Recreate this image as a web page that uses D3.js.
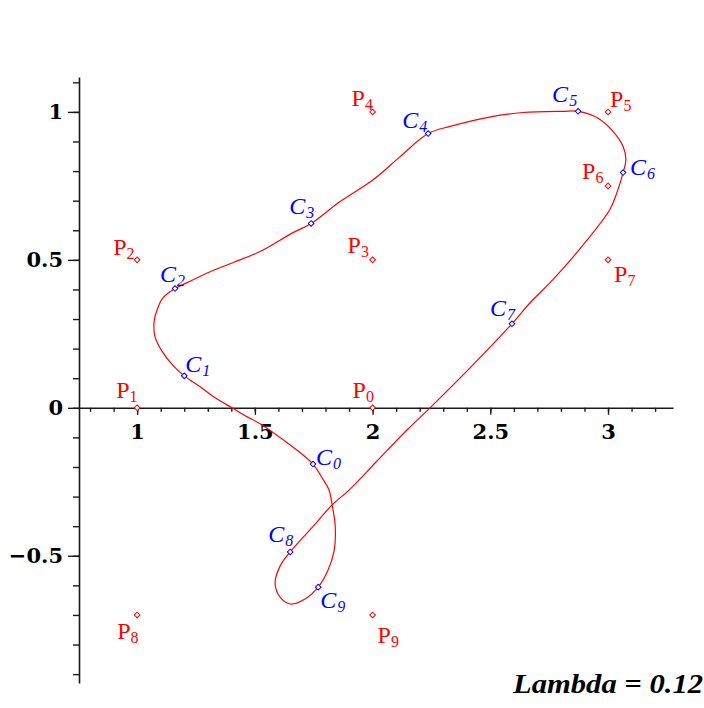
<!DOCTYPE html>
<html>
<head>
<meta charset="utf-8">
<script src="https://cdn.jsdelivr.net/npm/d3@7"></script>
<style>
  html, body { margin: 0; padding: 0; background: #ffffff; }
  svg { display: block; }
</style>
</head>
<body>
<svg id="chart" width="704" height="708"></svg>
<script>
// ---- data ----
const pointIds = [0, 1, 2, 3, 4, 5, 6, 7, 8, 9];
const pX = [2, 1, 1, 2, 2, 3, 3, 3, 1, 2];
const pY = [0, 0, 0.5, 0.5, 1, 1, 0.75, 0.5, -0.7, -0.7];
const cX = [1.747, 1.200, 1.161, 1.739, 2.236, 2.873, 3.064, 2.592, 1.650, 1.769];
const cY = [-0.190, 0.108, 0.403, 0.623, 0.927, 1.002, 0.795, 0.284, -0.487, -0.606];
// closed curve (starting at C0, in order C0..C9)
const curveX = [1.747, 1.684, 1.620, 1.522, 1.459, 1.403, 1.331, 1.268, 1.200, 1.149, 1.102, 1.076, 1.072, 1.085, 1.110,
  1.161, 1.212, 1.310, 1.408, 1.522, 1.662, 1.739, 1.862, 1.998, 2.117, 2.236, 2.329, 2.486, 2.639, 2.809,
  2.873, 2.953, 3.021, 3.064, 3.076, 3.064, 3.038, 3.008, 2.902, 2.766, 2.669, 2.592, 2.414, 2.244, 2.146, 2.015,
  1.900, 1.828, 1.756, 1.650, 1.607, 1.586, 1.607, 1.650, 1.713, 1.769, 1.811, 1.837, 1.841, 1.828, 1.815, 1.786];
const curveY = [-0.190, -0.146, -0.108, -0.054, -0.027, 0.000, 0.034, 0.071, 0.108, 0.146, 0.196, 0.240, 0.291, 0.332, 0.372,
  0.403, 0.423, 0.460, 0.491, 0.528, 0.592, 0.623, 0.697, 0.768, 0.849, 0.927, 0.951, 0.981, 0.998, 1.002,
  1.002, 0.981, 0.934, 0.883, 0.839, 0.795, 0.728, 0.670, 0.558, 0.433, 0.355, 0.284, 0.135, 0.000, -0.075, -0.183,
  -0.278, -0.328, -0.393, -0.487, -0.535, -0.592, -0.640, -0.663, -0.646, -0.606, -0.548, -0.481, -0.396, -0.328, -0.278, -0.237];
const xMajorTicks = [1, 1.5, 2, 2.5, 3];
const xTickLabels = ["1", "1.5", "2", "2.5", "3"];
const yMajorTicks = [-0.5, 0, 0.5, 1];
const yTickLabels = ["\u22120.5", "0", "0.5", "1"];
const xMinorTicks = d3.range(8, 33).map(d => d / 10);
const yMinorTicks = d3.range(-9, 12).map(d => d / 10);
const lambdaText = "Lambda = 0.12";

// ---- layout (label offsets in pixels, not data) ----
const pLabelOffsets = [[-20, -10], [-21, -10], [-24, -5], [-25, -7], [-21, -6], [2, -5], [-26, -7], [6, 22], [-20, 24], [5, 28]];
const cLabelOffsets = [[3, 1], [1, -4], [-15, -7], [-22, -9], [-26, -6], [-26, -9], [7, 2], [-22, -8], [-22, -10], [2, 21]];

const svg = d3.select("#chart");
const x = d3.scaleLinear().domain([0.753, 3.276]).range([79, 673]);
const y = d3.scaleLinear().domain([-0.93, 1.118]).range([683, 77]);

const axisColor = "#1a1a1a";
const tickFont = "'DejaVu Serif', serif";

// x axis
const gx = svg.append("g").attr("transform", `translate(0,${y(0)})`);
gx.call(d3.axisBottom(x).tickValues(xMinorTicks).tickSize(4).tickSizeOuter(0).tickFormat(""));
const gxMaj = svg.append("g").attr("transform", `translate(0,${y(0)})`);
gxMaj.call(d3.axisBottom(x).tickValues(xMajorTicks).tickSize(7).tickSizeOuter(0).tickPadding(9)
  .tickFormat((d, i) => xTickLabels[i]));
gxMaj.select(".domain").remove();

// y axis
const gy = svg.append("g").attr("transform", `translate(${x(0.753)},0)`);
gy.call(d3.axisLeft(y).tickValues(yMinorTicks).tickSize(6).tickSizeOuter(0).tickFormat(""));
const gyMaj = svg.append("g").attr("transform", `translate(${x(0.753)},0)`);
gyMaj.call(d3.axisLeft(y).tickValues(yMajorTicks).tickSize(11).tickSizeOuter(0).tickPadding(5)
  .tickFormat((d, i) => yTickLabels[i]));
gyMaj.select(".domain").remove();

svg.selectAll(".domain").attr("stroke", axisColor).attr("stroke-width", 1.6);
svg.selectAll(".tick line").attr("stroke", axisColor).attr("stroke-width", 1.4);
svg.selectAll(".tick text").attr("fill", "#000").style("font-family", tickFont)
  .style("font-weight", "bold").style("font-size", "21px");

// curve
const curvePts = curveX.map((v, i) => [v, curveY[i]]);
const line = d3.line().x(d => x(d[0])).y(d => y(d[1])).curve(d3.curveCatmullRomClosed.alpha(0.5));
svg.append("path").attr("d", line(curvePts)).attr("fill", "none").attr("stroke", "#ff0000").attr("stroke-width", 1.2);

// markers
const diamond = d3.symbol().type(d3.symbolSquare).size(16);
function drawMarkers(xs, ys, color) {
  svg.append("g").selectAll("path").data(pointIds).join("path")
    .attr("d", diamond())
    .attr("transform", d => `translate(${x(xs[d])},${y(ys[d])}) rotate(45)`)
    .attr("fill", "#ffffff").attr("stroke", color).attr("stroke-width", 1);
}
drawMarkers(pX, pY, "#ff0000");
drawMarkers(cX, cY, "#0000ff");

// P labels
const pLab = svg.append("g").selectAll("text").data(pointIds).join("text")
  .attr("x", d => x(pX[d]) + pLabelOffsets[d][0])
  .attr("y", d => y(pY[d]) + pLabelOffsets[d][1])
  .attr("fill", "#ff0000").style("font-family", "'Liberation Serif', serif").style("font-size", "24px");
pLab.append("tspan").text("P");
pLab.append("tspan").attr("dy", 4).style("font-size", "16px").text(d => d);

// C labels
const cLab = svg.append("g").selectAll("text").data(pointIds).join("text")
  .attr("x", d => x(cX[d]) + cLabelOffsets[d][0])
  .attr("y", d => y(cY[d]) + cLabelOffsets[d][1])
  .attr("fill", "#0000ff").style("font-family", "'Liberation Serif', serif")
  .style("font-style", "italic").style("font-size", "24px");
cLab.append("tspan").text("C");
cLab.append("tspan").attr("dy", 4).attr("dx", 1).style("font-size", "16px").text(d => d);

// Lambda text
svg.append("text").attr("x", 703).attr("y", 693).attr("text-anchor", "end")
  .attr("textLength", 190).attr("lengthAdjust", "spacingAndGlyphs")
  .style("font-family", "'Liberation Serif', serif").style("font-weight", "bold").style("font-style", "italic")
  .style("font-size", "27px").attr("fill", "#000").text(lambdaText);
</script>
</body>
</html>
